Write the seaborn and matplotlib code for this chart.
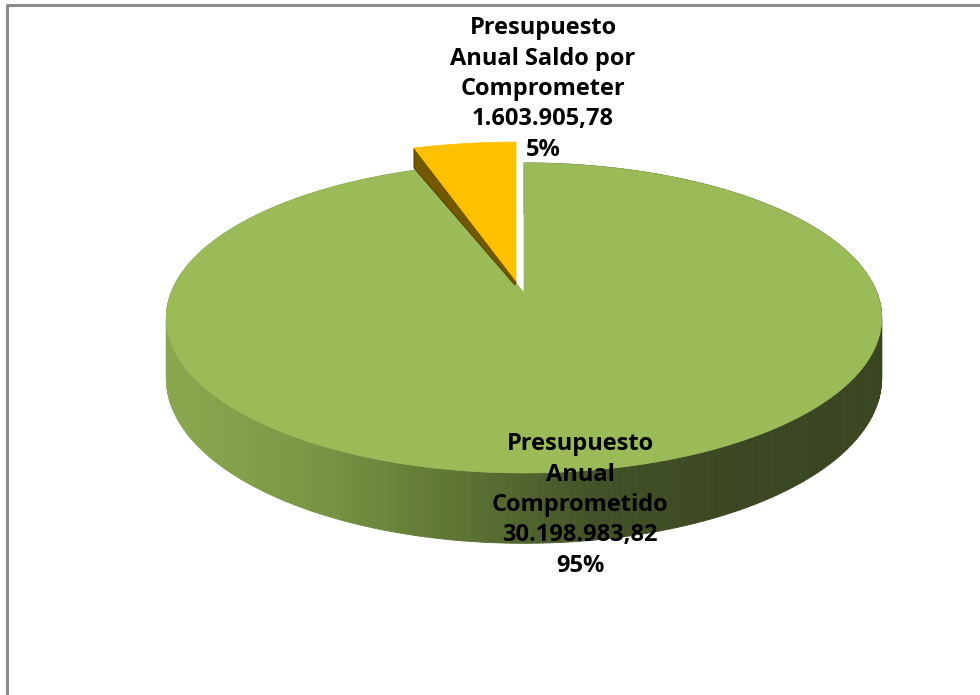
import numpy as np
import matplotlib
matplotlib.use("Agg")
import matplotlib.pyplot as plt
from matplotlib.collections import PolyCollection
from matplotlib.patches import Polygon
import seaborn as sns

# datos del grafico
categorias = ["Presupuesto\nAnual\nComprometido", "Presupuesto\nAnual Saldo por\nComprometer"]
valores = [30198983.82, 1603905.78]
colores = ["#9bbb59", "#ffc000"]
separado = [False, True]

sns.set_theme(style="white")
plt.rcParams['font.family'] = ['Open Sans', 'DejaVu Sans']

fig = plt.figure(figsize=(9.8, 6.95), dpi=100)
ax = fig.add_axes([0, 0, 1, 1])
ax.set_xlim(0, 980)
ax.set_ylim(695, 0)
ax.axis("off")

# proyeccion en perspectiva (estilo pastel 3D de Excel)
cx, cy = 524, 293
A, B, k = 353, 151, 0.161
H = 59


def proj(theta, r=1.0):
    X = r * np.sin(theta)
    Z = r * np.cos(theta)
    w = 1 + k * Z
    return cx + A * X / w, cy - B * Z / w, w


def formato(v):
    s = f"{v:,.2f}"
    return s.replace(",", "X").replace(".", ",").replace("X", ".")


total = sum(valores)
fracs = [v / total for v in valores]
limites = np.concatenate([[0], np.cumsum(fracs)]) * 2 * np.pi

# sombreado del lateral
sombra = sns.blend_palette(["#8aa84f", "#7a9744", "#5f7635", "#435228", "#3b4722", "#3a4621"], 200)

# porcion principal (verde)
t0, t1 = limites[0], limites[1]
th = np.linspace(t0, t1, 400)
xs, ys, ws = proj(th)
quads, cols = [], []
for i in range(len(th) - 1):
    d0, d1 = H / ws[i], H / ws[i + 1]
    quads.append([(xs[i], ys[i]), (xs[i + 1], ys[i + 1]),
                  (xs[i + 1], ys[i + 1] + d1), (xs[i], ys[i] + d0)])
    t = ((xs[i] + xs[i + 1]) / 2 - (cx - A * 1.02)) / (2 * A * 1.02)
    cols.append(sombra[int(np.clip(t, 0, 0.999) * len(sombra))])
ax.add_collection(PolyCollection(quads, facecolors=cols, edgecolors=cols, linewidths=0.6))
ax.add_patch(Polygon(np.column_stack([np.r_[cx, xs], np.r_[cy, ys]]),
                     closed=True, facecolor=colores[0], edgecolor=colores[0], lw=0.5))

# porcion separada (amarilla)
t0, t1 = limites[1], limites[2]
dx, dy, ry = -8, -12, 1.08
th = np.linspace(t0, t1, 60)
xs, ys, ws = proj(th, ry)
xs, ys = xs + dx, ys + dy
vx, vy = cx + dx, cy + dy
# cara radial visible
px, py = xs[0], ys[0]
ax.add_patch(Polygon([(px, py), (vx, vy), (vx - 1, vy + 4), (px, py + 20)],
                     closed=True, facecolor="#735800", edgecolor="#5a4400", lw=0.8))
ax.add_patch(Polygon(np.column_stack([np.r_[vx, xs], np.r_[vy, ys]]),
                     closed=True, facecolor=colores[1], edgecolor=colores[1], lw=0.5))

# etiquetas
posiciones = [(580, 505), (543, 89)]
for cat, v, f, (lx, ly) in zip(categorias, valores, fracs, posiciones):
    txt = f"{cat}\n{formato(v)}\n{round(f * 100)}%"
    ax.text(lx, ly, txt, ha="center", va="center", multialignment="center",
            fontsize=17, fontweight="bold", color="black", linespacing=1.36)

# marco
ax.plot([7, 7, 980], [695, 5, 5], color="#8c8c8c", lw=2.2, solid_capstyle="butt")

fig.savefig("out.png", dpi=100)
